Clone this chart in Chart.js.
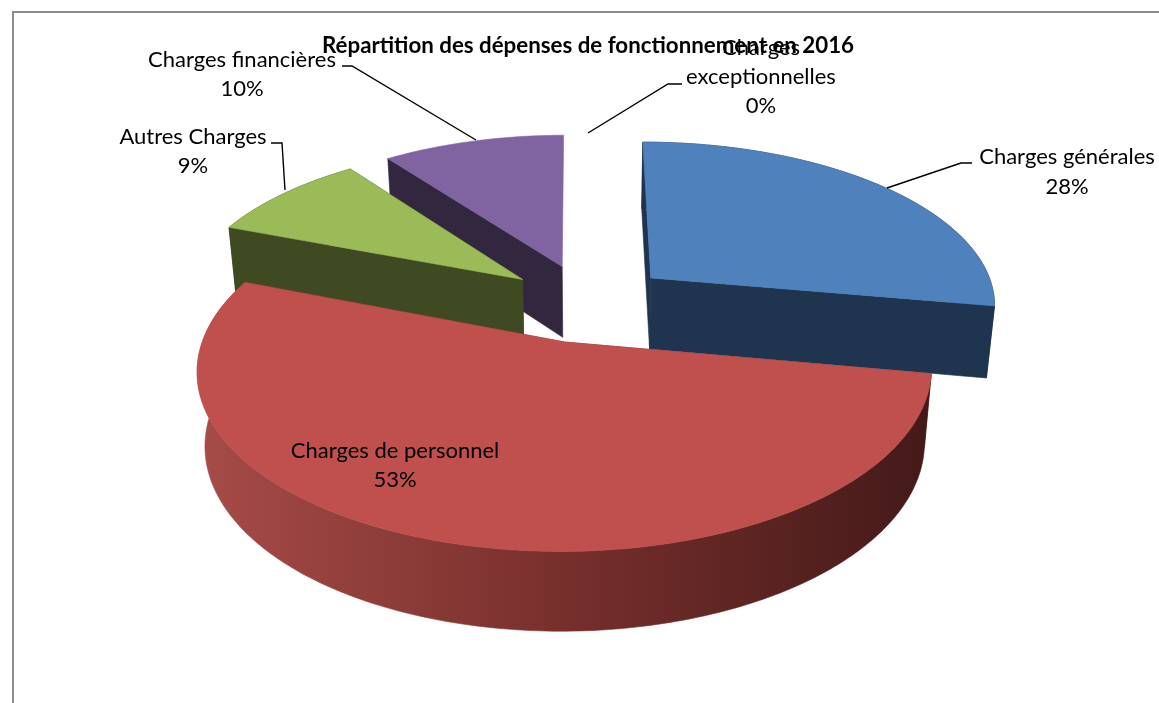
<!DOCTYPE html>
<html><head><meta charset="utf-8">
<style>html,body{margin:0;padding:0;background:#fff}#w{width:1159px;height:703px}</style>
<script src="https://cdn.jsdelivr.net/npm/chart.js@4"></script></head>
<body><div id="w"><canvas id="c" width="1159" height="703"></canvas></div>
<script>
const categories = ['Charges générales','Charges de personnel','Autres Charges','Charges financières','Charges exceptionnelles'];
const values = [27.8,53.0,9.0,10.1,0.1];
const topColors = ['#4f81bd','#c0504d','#9bbb59','#8064a2','#4bacc6'];
const wallColors = ['#1f344e','#7a2f2c','#3f4a22','#33263f','#1f4a55'];
const chartTitle = 'Répartition des dépenses de fonctionnement en 2016';

const view = {p:0.000435, a:1.01, b:0.475, h:72, narrow:0.02, depthPow:0.5};
const sliceScale = [0.98,0.99,0.965,0.965,1];
const hideEndWall = [false,false,false,true,false];
const drawOrder = [3,2,0,1];
const labelLayout = [
 {x:1067,y:[157,187],line:[[972,163],[961,163],[887,188]]},
 {x:395,y:[451,480]},
 {x:193,y:[137,166],line:[[271,143],[282,143],[285,190]]},
 {x:242,y:[60,89],line:[[342,66],[352,66],[476,140]]},
 {x:761,y:[48,77,106],wrap:true,line:[[682,84],[668,84],[588,133]]}
];

function project(el,wx,wy,z){
  const w=1-view.p*wy;
  return [el.x+view.a*wx/w*(1-view.narrow*z), el.y+view.b*wy/w+view.h*z/Math.pow(w,view.depthPow)];
}
function poly(ctx,pts){ctx.beginPath();pts.forEach((q,i)=>i?ctx.lineTo(q[0],q[1]):ctx.moveTo(q[0],q[1]));ctx.closePath();}
function paintFace(ctx,pts,fill){poly(ctx,pts);ctx.fillStyle=fill;ctx.fill();ctx.strokeStyle=fill;ctx.lineWidth=0.6;ctx.stroke();}

function drawSlice(chart,i){
  const ctx=chart.ctx, el=chart.getDatasetMeta(0).data[i];
  const s=el.startAngle,e=el.endAngle,R=el.outerRadius*sliceScale[i],mid=(s+e)/2,off=(el.options.offset||0)/4;
  const ox=Math.cos(mid)*off, oy=Math.sin(mid)*off;
  const n=Math.max(6,Math.ceil((e-s)*60));
  const rim=z=>{const o=[];for(let k=0;k<=n;k++){const t=s+(e-s)*k/n;o.push(project(el,ox+R*Math.cos(t),oy+R*Math.sin(t),z));}return o;};
  const top=rim(0),bot=rim(1),tip0=project(el,ox,oy,0),tip1=project(el,ox,oy,1);
  const wall=wallColors[i];
  paintFace(ctx,[tip0,top[0],bot[0],tip1],wall);
  if(!hideEndWall[i]) paintFace(ctx,[tip0,top[n],bot[n],tip1],wall);
  let fill=wall;
  if(i===1){
    const g=ctx.createLinearGradient(200,0,930,0);
    g.addColorStop(0,'#a64b48');g.addColorStop(0.5,'#772f2c');g.addColorStop(1,'#431a19');
    fill=g;
  }
  if(!hideEndWall[i]) paintFace(ctx,top.concat(bot.slice().reverse()),fill);
  paintFace(ctx,[tip0].concat(top),topColors[i]);
}

const pie3d={id:'pie3d',
  beforeDraw(chart){
    const ctx=chart.ctx;ctx.save();ctx.strokeStyle='#8c8c8c';ctx.lineWidth=2;
    ctx.beginPath();ctx.moveTo(13,703);ctx.lineTo(13,12);ctx.lineTo(1159,12);ctx.stroke();ctx.restore();
  },
  beforeDatasetDraw(chart){
    const ctx=chart.ctx;ctx.save();
    drawOrder.forEach(i=>drawSlice(chart,i));
    ctx.restore();
    return false;
  },
  afterDraw(chart){
    const ctx=chart.ctx,total=values.reduce((a,b)=>a+b,0);ctx.save();
    ctx.strokeStyle='#000';ctx.lineWidth=1.4;
    labelLayout.forEach(l=>{if(!l.line)return;ctx.beginPath();l.line.forEach((q,i)=>i?ctx.lineTo(q[0],q[1]):ctx.moveTo(q[0],q[1]));ctx.stroke();});
    ctx.fillStyle='#000';ctx.font='22px Lato';ctx.textAlign='center';ctx.textBaseline='middle';
    labelLayout.forEach((l,i)=>{
      const pct=Math.round(values[i]/total*100)+'%';
      const name=categories[i];
      const lines=l.wrap?name.split(' ').concat(pct):[name,pct];
      lines.forEach((t,k)=>ctx.fillText(t,l.x,l.y[k]));
    });
    ctx.restore();
  }
};

new Chart(document.getElementById('c'),{
  type:'pie',
  data:{labels:categories,datasets:[{data:values,backgroundColor:topColors,borderWidth:0,offset:332,hoverOffset:0,radius:350}]},
  options:{
    responsive:false,animation:false,rotation:0,events:[],
    layout:{padding:{left:100,right:83,top:10,bottom:157}},
    plugins:{
      legend:{display:false},tooltip:{enabled:false},
      title:{display:true,text:chartTitle,fullSize:false,color:'#000',font:{family:'Lato',size:22.3,weight:'bold'},padding:{top:22.6,bottom:0}}
    }
  },
  plugins:[pie3d]
});
</script></body></html>
